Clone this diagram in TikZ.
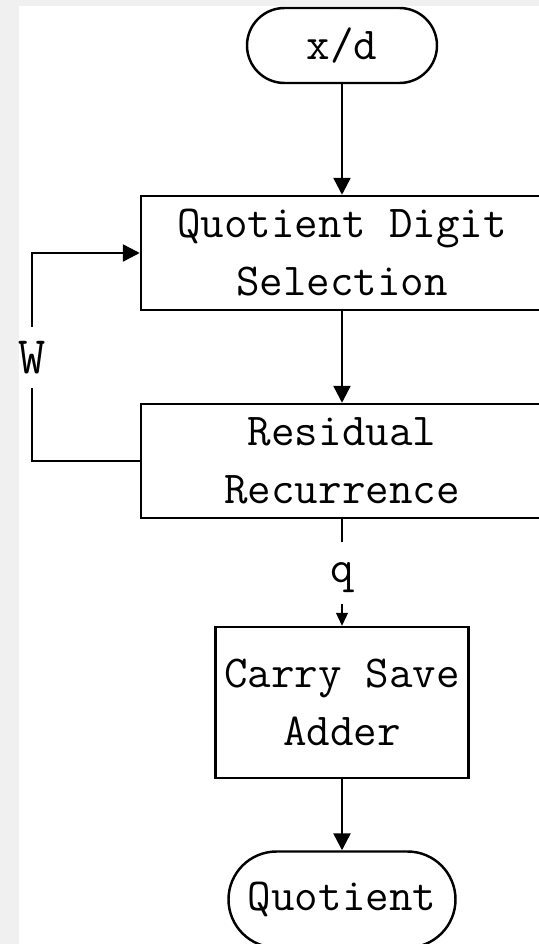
\documentclass[tikz,border=0pt]{standalone}
\usepackage{tikz}
\usetikzlibrary{arrows.meta,positioning}

\begin{document}
\begin{tikzpicture}[>={Triangle[length=0.34cm,width=0.34cm]}, line width=1.4pt,
    every node/.style={font=\ttfamily\fontsize{26}{33}\selectfont},
    box/.style={draw, rectangle, align=center, inner sep=2pt},
    terminal/.style={draw, rectangle, rounded corners=0.75cm, minimum width=3.8cm, minimum height=1.5cm}]

        % page frame
        \fill[black!6] (0,0) rectangle (0.38,-18.88);
        \fill[black!6] (0,0) rectangle (10.78,-0.12);
        \useasboundingbox (0,0) rectangle (10.78,-18.88);

        % main chain
        \node[terminal] (xd) at (6.84,-0.91) {x/d};
        \node[box, minimum width=8.04cm, minimum height=2.28cm] (qds) at (6.84,-5.06) {Quotient Digit\\Selection};
        \node[box, minimum width=8.04cm, minimum height=2.28cm] (rr) at (6.84,-9.22) {Residual\\Recurrence};
        \node[inner sep=0pt, text depth=0pt, minimum height=1.2cm] (q) at (6.84,-11.46) {q};
        \node[box, minimum width=5.06cm, minimum height=3.02cm] (csa) at (6.84,-14.05) {Carry Save\\Adder};
        \node[terminal, minimum width=4.54cm, minimum height=1.92cm, rounded corners=0.96cm] (quot) at (6.84,-17.99) {Quotient};

        \draw[->] (xd) -- (qds);
        \draw[->] (qds) -- (rr);
        \draw[line width=0.6pt] (rr) -- (q);
        \draw[line width=0.6pt, -{Triangle[length=0.26cm,width=0.24cm]}] (q) -- (csa);
        \draw[->] (csa) -- (quot);

        % feedback of the partial remainder
        \node[inner sep=0pt, minimum height=1.18cm, font=\ttfamily\fontsize{30}{33}\selectfont] (w) at (0.64,-7.15) {W};
        \draw (rr.west) -| (w);
        \draw[->] (w) |- (qds.west);

    \end{tikzpicture}
\end{document}
